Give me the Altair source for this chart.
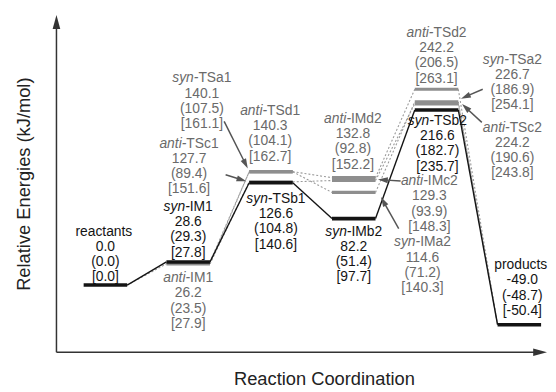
import math
import altair as alt
import pandas as pd

# ---------------- data ----------------
species = ["reactants", "syn-IM1", "anti-IM1", "syn-TSa1", "anti-TSc1", "anti-TSd1",
           "syn-TSb1", "syn-IMb2", "anti-IMd2", "anti-IMc2", "syn-IMa2",
           "syn-TSb2", "anti-TSd2", "syn-TSa2", "anti-TSc2", "products"]
stage = [0, 1, 1, 2, 2, 2, 2, 3, 3, 3, 3, 4, 4, 4, 4, 5]
energy = [0.0, 28.6, 26.2, 140.1, 127.7, 140.3, 126.6, 82.2, 132.8, 129.3, 114.6,
          216.6, 242.2, 226.7, 224.2, -49.0]
energy_paren = [0.0, 29.3, 23.5, 107.5, 89.4, 104.1, 104.8, 51.4, 92.8, 93.9, 71.2,
                182.7, 206.5, 186.9, 190.6, -48.7]
energy_bracket = [0.0, 27.8, 27.9, 161.1, 151.6, 162.7, 140.6, 97.7, 152.2, 148.3, 140.3,
                  235.7, 263.1, 254.1, 243.8, -50.4]
main_path = ["reactants", "syn-IM1", "syn-TSb1", "syn-IMb2", "syn-TSb2", "products"]
side_paths = [
    ["reactants", "anti-IM1", "anti-TSc1", "anti-IMc2", "anti-TSc2", "products"],
    ["anti-IM1", "anti-TSd1", "anti-IMd2", "anti-TSd2", "products"],
    ["syn-IM1", "syn-TSa1", "syn-IMa2", "syn-TSa2", "products"],
]
x_title = "Reaction Coordination"
y_title = "Relative Energies (kJ/mol)"

# ---------------- layout ----------------
W, H = 496, 341
X_MIN, X_MAX = -0.5914, 5.3345
Y_MIN, Y_MAX = -83.2, 334.0
PX_X = W / (X_MAX - X_MIN)
PX_Y = H / (Y_MAX - Y_MIN)
HALF = 0.263
FS = 14
LINE = 15.4 / PX_Y
FONT = "Liberation Sans"
BLACK = "#141414"
GRAY_LEVEL = "#8e8e8e"
GRAY_TEXT = "#6a6a6a"
ARROW = "#555555"

# label anchors (stage units, kJ/mol) for the name line
label_pos = {
    "reactants": (0.0, 66.0), "syn-IM1": (1.0, 96.6), "anti-IM1": (1.0, 8.6),
    "syn-TSa1": (1.165, 255.7), "anti-TSc1": (1.01, 174.9), "anti-TSd1": (1.99, 215.3),
    "syn-TSb1": (2.06, 106.4), "anti-IMd2": (2.99, 205.5), "syn-IMb2": (3.0, 66.1),
    "anti-IMc2": (3.913, 128.4), "syn-IMa2": (3.83, 52.6), "anti-TSd2": (4.0, 311.9),
    "syn-TSb2": (4.01, 203.1), "syn-TSa2": (4.916, 278.9), "anti-TSc2": (4.916, 194.5),
    "products": (5.036, 24.5),
}
# annotation arrows: (tail, tip) in (stage, kJ/mol)
arrows = [
    ((1.434, 202.4), (1.720, 144.3)),
    ((1.452, 136.4), (1.703, 128.4)),
    ((4.558, 242.2), (4.295, 230.6)),
    ((4.547, 201.2), (4.308, 223.9)),
    ((3.566, 128.7), (3.292, 130.5)),
    ((3.543, 69.7), (3.328, 108.9)),
]

AW = {'a': .556, 'b': .556, 'c': .5, 'd': .556, 'e': .556, 'i': .222, 'n': .556,
      's': .5, 't': .278, 'y': .5, '-': .333, 'T': .611, 'S': .667, 'I': .278,
      'M': .833, '1': .556, '2': .556}


def tw(s):
    return sum(AW.get(ch, .556) for ch in s) * FS


idx = {n: i for i, n in enumerate(species)}
is_main = {n: (n in main_path) for n in species}

xs = alt.Scale(domain=[X_MIN, X_MAX], nice=False, zero=False)
ys = alt.Scale(domain=[Y_MIN, Y_MAX], nice=False, zero=False)


def X(f="x"):
    return alt.X(f + ":Q", scale=xs, axis=None)


def Y(f="y"):
    return alt.Y(f + ":Q", scale=ys, axis=None)


# levels
lev = pd.DataFrame({
    "name": species,
    "x": [s - HALF for s in stage],
    "x2": [s + HALF for s in stage],
    "y": energy,
    "main": [is_main[n] for n in species],
})
gray_levels = alt.Chart(lev[~lev["main"]]).mark_rule(
    color=GRAY_LEVEL, strokeWidth=3.2).encode(x=X(), x2="x2:Q", y=Y())
black_levels = alt.Chart(lev[lev["main"]]).mark_rule(
    color=BLACK, strokeWidth=3.6).encode(x=X(), x2="x2:Q", y=Y())


def segs(path):
    rows = []
    for a, b in zip(path[:-1], path[1:]):
        ia, ib = idx[a], idx[b]
        rows.append({"x": stage[ia] + HALF, "y": energy[ia],
                     "x2": stage[ib] - HALF, "y2": energy[ib]})
    return rows


side_rows = []
for p in side_paths:
    side_rows += segs(p)
dotted = alt.Chart(pd.DataFrame(side_rows)).mark_rule(
    color="#9a9a9a", strokeWidth=1.1, strokeDash=[2, 2]).encode(
    x=X(), y=Y(), x2="x2:Q", y2="y2:Q")
solid = alt.Chart(pd.DataFrame(segs(main_path))).mark_rule(
    color=BLACK, strokeWidth=1.4).encode(x=X(), y=Y(), x2="x2:Q", y2="y2:Q")

# labels
pre_rows, rest_rows, val_rows = [], [], []
for i, n in enumerate(species):
    ax, ay = label_pos[n]
    col = BLACK if is_main[n] else GRAY_TEXT
    if n.startswith("syn-") or n.startswith("anti-"):
        k = n.index("-") + 1
        prefix, rest = n[:k], n[k:]
    else:
        prefix, rest = "", n
    jx = ax + ((tw(prefix) - tw(rest)) / 2) / PX_X
    if prefix:
        pre_rows.append({"x": jx, "y": ay, "t": prefix, "c": col})
    rest_rows.append({"x": jx, "y": ay, "t": rest, "c": col})
    vals = [f"{energy[i]:.1f}", f"({energy_paren[i]:.1f})", f"[{energy_bracket[i]:.1f}]"]
    for j, v in enumerate(vals):
        val_rows.append({"x": ax, "y": ay - (j + 1) * LINE, "t": v, "c": col})

txt_common = dict(font=FONT, fontSize=FS, baseline="middle")
pre_text = alt.Chart(pd.DataFrame(pre_rows)).mark_text(
    align="right", fontStyle="italic", **txt_common).encode(
    x=X(), y=Y(), text="t:N", color=alt.Color("c:N", scale=None))
rest_text = alt.Chart(pd.DataFrame(rest_rows)).mark_text(
    align="left", **txt_common).encode(
    x=X(), y=Y(), text="t:N", color=alt.Color("c:N", scale=None))
val_text = alt.Chart(pd.DataFrame(val_rows)).mark_text(
    align="center", **txt_common).encode(
    x=X(), y=Y(), text="t:N", color=alt.Color("c:N", scale=None))

# annotation arrows
HL = 10.0
ar_lines, ar_heads = [], []
for (tx, ty), (hx, hy) in arrows:
    dx = (hx - tx) * PX_X
    dy = -(hy - ty) * PX_Y
    L = math.hypot(dx, dy)
    ux, uy = dx / L, dy / L
    cx = hx - ux * HL / 2 / PX_X
    cy = hy + uy * HL / 2 / PX_Y
    ang = math.degrees(math.atan2(ux, -uy)) % 360
    ar_lines.append({"x": tx, "y": ty, "x2": cx, "y2": cy})
    ar_heads.append({"x": cx, "y": cy, "a": ang})
arrow_lines = alt.Chart(pd.DataFrame(ar_lines)).mark_rule(
    color=ARROW, strokeWidth=1.5).encode(x=X(), y=Y(), x2="x2:Q", y2="y2:Q")
arrow_heads = alt.Chart(pd.DataFrame(ar_heads)).mark_point(
    shape="M0,-1L0.6,1L-0.6,1Z", filled=True, size=100, opacity=1,
    color=ARROW, strokeWidth=0).encode(
    x=X(), y=Y(), angle=alt.Angle("a:Q", scale=None))

# axes drawn as arrows
AXC = "#333333"
ax_lines = pd.DataFrame([
    {"x": X_MIN, "y": Y_MIN, "x2": X_MIN, "y2": Y_MAX - 10 / PX_Y},
    {"x": X_MIN, "y": Y_MIN, "x2": X_MAX - 10 / PX_X, "y2": Y_MIN},
])
axis_lines = alt.Chart(ax_lines).mark_rule(color=AXC, strokeWidth=1.5).encode(
    x=X(), y=Y(), x2="x2:Q", y2="y2:Q")
ax_heads = pd.DataFrame([
    {"x": X_MIN, "y": Y_MAX - 7 / PX_Y, "a": 0},
    {"x": X_MAX - 7 / PX_X, "y": Y_MIN, "a": 90},
])
axis_heads = alt.Chart(ax_heads).mark_point(
    shape="M0,-1L0.55,1L-0.55,1Z", filled=True, size=196, opacity=1,
    color=AXC, strokeWidth=0).encode(
    x=X(), y=Y(), angle=alt.Angle("a:Q", scale=None))

titles_x = alt.Chart(pd.DataFrame([{"x": 2.646, "y": Y_MIN - 27 / PX_Y, "t": x_title}])).mark_text(
    font=FONT, fontSize=18.5, color="#222222", baseline="middle", align="center").encode(
    x=X(), y=Y(), text="t:N")
titles_y = alt.Chart(pd.DataFrame([{"x": X_MIN - 33 / PX_X, "y": 124.8, "t": y_title}])).mark_text(
    font=FONT, fontSize=18.5, color="#222222", baseline="middle", align="center", angle=270).encode(
    x=X(), y=Y(), text="t:N")

chart = alt.layer(
    dotted, gray_levels, solid, black_levels, arrow_lines, arrow_heads,
    axis_lines, axis_heads, pre_text, rest_text, val_text, titles_x, titles_y,
).properties(
    width=W, height=H, autosize="none",
    padding={"left": 49, "top": 5, "right": 1, "bottom": 38},
    background="white",
).configure_view(stroke=None)

chart.save("out.html", embed_options={"renderer": "svg", "actions": False})
